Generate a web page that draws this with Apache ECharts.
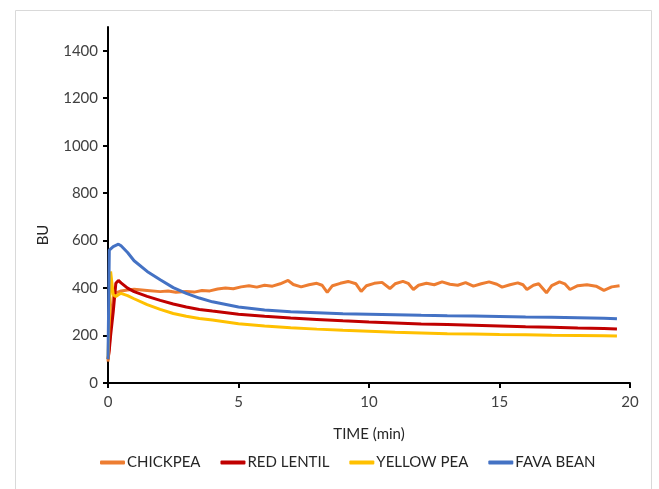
<!DOCTYPE html>
<html>
<head>
<meta charset="utf-8">
<script src="https://cdn.jsdelivr.net/npm/echarts@6/dist/echarts.min.js"></script>
<style>
  html, body { margin: 0; padding: 0; background: #fff; }
  #chart { width: 659px; height: 489px; }
</style>
</head>
<body>
<div id="chart"></div>
<script>
// time (min) shared by the smooth curves
var timeSmooth = [0, 0.05, 0.1, 0.2, 0.3, 0.4, 0.5, 0.75, 1, 1.5, 2, 2.5, 3, 3.5, 4, 5, 6, 7, 8, 9, 10, 11, 12, 13, 14, 15, 16, 17, 18, 19, 19.5];
var favaBean   = [100, 560, 565, 575, 580, 585, 578, 550, 515, 470, 435, 402, 378, 358, 342, 320, 308, 300, 296, 292, 290, 288, 285, 283, 282, 280, 278, 277, 275, 273, 271];
var redLentil  = [100, 140, 200, 300, 420, 432, 422, 400, 385, 365, 348, 333, 320, 310, 303, 290, 281, 274, 268, 262, 257, 253, 249, 246, 243, 240, 237, 235, 232, 230, 228];
var yellowPea  = [100, 300, 470, 372, 365, 372, 378, 368, 355, 330, 310, 293, 281, 272, 265, 250, 240, 233, 227, 222, 218, 214, 211, 208, 206, 204, 203, 201, 200, 199, 198];

// chickpea is noisier, so it has its own time points
var chickTime = [0, 0.05, 0.1, 0.2, 0.3, 0.5, 0.75, 1, 1.5,
  2, 2.3, 2.6, 3, 3.3, 3.6, 3.9, 4.2, 4.5, 4.8,
  5.1, 5.4, 5.7, 6.0, 6.3, 6.6, 6.9, 7.1, 7.4, 7.7,
  8.0, 8.2, 8.4, 8.6, 8.9, 9.2, 9.5, 9.7, 9.9, 10.2,
  10.5, 10.8, 11.0, 11.3, 11.5, 11.7, 11.9, 12.2, 12.5, 12.8,
  13.1, 13.4, 13.7, 14.0, 14.3, 14.6, 14.9, 15.1, 15.4, 15.7,
  15.9, 16.05, 16.3, 16.5, 16.8, 17.0, 17.3, 17.5, 17.7, 18.0,
  18.35, 18.7, 19.0, 19.3, 19.6];
var chickpea = [90, 150, 250, 360, 380, 388, 392, 395, 390,
  385, 388, 382, 386, 383, 390, 388, 396, 400, 397,
  405, 410, 404, 412, 408, 418, 432, 415, 405, 414,
  420, 412, 382, 410, 420, 428, 418, 386, 410, 420,
  424, 398, 418, 428, 420, 394, 412, 420, 414, 426,
  416, 412, 423, 408, 418, 426, 416, 404, 414, 422,
  414, 394, 412, 418, 380, 410, 426, 418, 394, 410,
  414, 408, 390, 405, 410];

var seriesNames = ['CHICKPEA', 'RED LENTIL', 'YELLOW PEA', 'FAVA BEAN'];
var colors = ['#ED7D31', '#C00000', '#FFC000', '#4472C4'];

function pairs(t, v) {
  var out = [];
  for (var i = 0; i < t.length; i++) out.push([t[i], v[i]]);
  return out;
}

var chart = echarts.init(document.getElementById('chart'));
var font = 'Lato';

function lineSeries(name, color, data) {
  return {
    name: name,
    type: 'line',
    data: data,
    showSymbol: false,
    symbol: 'none',
    smooth: false,
    lineStyle: { color: color, width: 3 },
    itemStyle: { color: color }
  };
}

chart.setOption({
  animation: false,
  color: colors,
  graphic: [{
    type: 'rect',
    shape: { x: 15.5, y: 10.5, width: 636, height: 500 },
    style: { fill: 'none', stroke: '#d9d9d9', lineWidth: 1 },
    silent: true
  }],
  grid: { left: 108, right: 29, top: 27, bottom: 106 },
  legend: {
    bottom: 14,
    left: 95,
    itemWidth: 25,
    itemHeight: 4,
    itemGap: 20,
    icon: 'roundRect',
    textStyle: { fontFamily: font, fontSize: 15, color: '#262626', padding: [0, 0, 0, -3] },
    data: seriesNames
  },
  xAxis: {
    type: 'value',
    min: 0,
    max: 20,
    interval: 5,
    name: 'TIME (min)',
    nameLocation: 'middle',
    nameGap: 44,
    nameTextStyle: { fontFamily: font, fontSize: 15, color: '#262626' },
    axisLine: { show: true, onZero: false, lineStyle: { color: '#000', width: 2 } },
    axisTick: { show: true, length: 5, lineStyle: { color: '#000', width: 2 } },
    axisLabel: { fontFamily: font, fontSize: 15, color: '#404040', margin: 12 },
    splitLine: { show: false }
  },
  yAxis: {
    type: 'value',
    min: 0,
    max: 1500,
    interval: 200,
    name: 'BU',
    nameLocation: 'middle',
    nameGap: 57,
    nameRotate: 90,
    nameTextStyle: { fontFamily: font, fontSize: 15, color: '#262626', padding: [0, 60, 0, 0] },
    axisLine: { show: true, lineStyle: { color: '#000', width: 2 } },
    axisTick: { show: true, length: 5, lineStyle: { color: '#000', width: 2 } },
    axisLabel: {
      fontFamily: font, fontSize: 15, color: '#404040', margin: 10, showMaxLabel: false,
      formatter: function (v) { return String(v); }
    },
    splitLine: { show: false }
  },
  series: [
    lineSeries(seriesNames[0], colors[0], pairs(chickTime, chickpea)),
    lineSeries(seriesNames[1], colors[1], pairs(timeSmooth, redLentil)),
    lineSeries(seriesNames[2], colors[2], pairs(timeSmooth, yellowPea)),
    lineSeries(seriesNames[3], colors[3], pairs(timeSmooth, favaBean))
  ]
});
</script>
</body>
</html>
